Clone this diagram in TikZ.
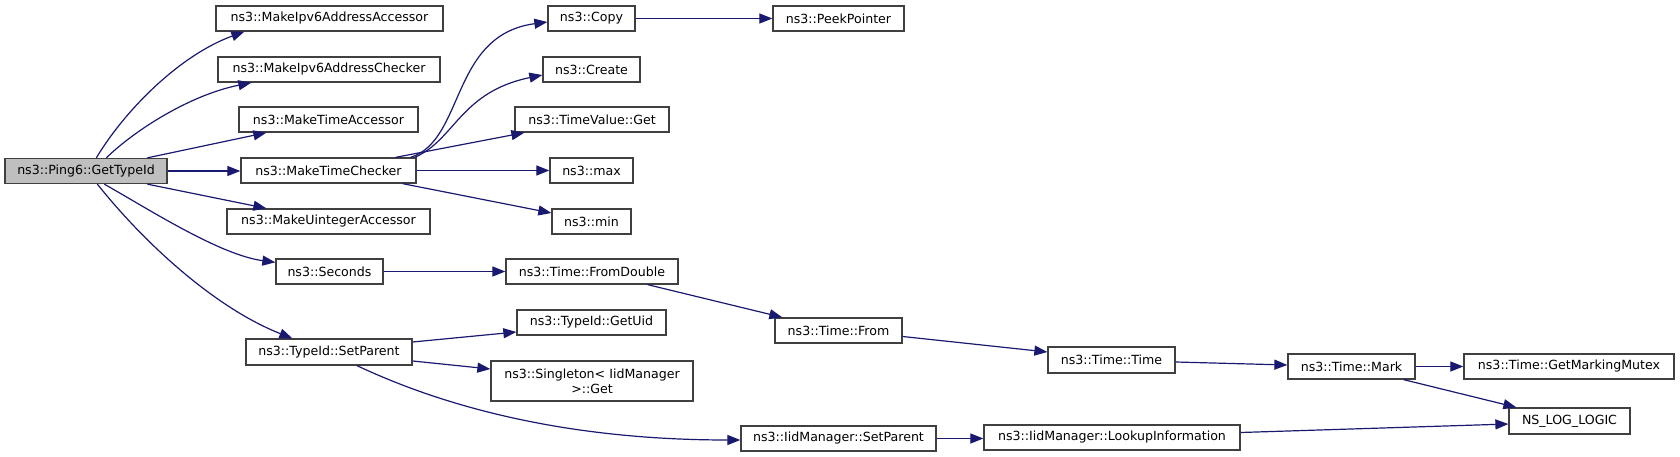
\documentclass[tikz,border=0pt]{standalone}
\usepackage{fontspec}
\setmainfont{DejaVu Sans}
\usetikzlibrary{arrows.meta,calc}
\definecolor{edgeblue}{HTML}{191970}
\definecolor{boxborder}{HTML}{404040}
\definecolor{rootfill}{HTML}{BFBFBF}
\tikzset{
  fnbox/.style={draw=boxborder, line width=1.3pt, fill=white, inner sep=0pt,
    minimum height=25pt, font=\fontsize{12.6pt}{15pt}\selectfont, align=center},
  rootbox/.style={fnbox, fill=rootfill},
  call/.style={draw=edgeblue, line width=1.2pt, -{Triangle[length=13pt,width=10pt]}},
}
\begin{document}
\begin{tikzpicture}[x=1pt,y=-1pt]
\useasboundingbox (0,0) rectangle (1680,457);
% nodes
\node[rootbox, minimum width=162pt] (gt) at (86,171) {ns3::Ping6::GetTypeId};
\node[fnbox, minimum width=227pt] (acc6) at (329.5,18.5) {ns3::MakeIpv6AddressAccessor};
\node[fnbox, minimum width=222pt] (chk6) at (329,69.5) {ns3::MakeIpv6AddressChecker};
\node[fnbox, minimum width=179pt] (tacc) at (328.5,119.5) {ns3::MakeTimeAccessor};
\node[fnbox, minimum width=175pt] (tchk) at (328.5,170.5) {ns3::MakeTimeChecker};
\node[fnbox, minimum width=203pt] (uacc) at (328.5,221.5) {ns3::MakeUintegerAccessor};
\node[fnbox, minimum width=107pt] (sec) at (329.5,271.5) {ns3::Seconds};
\node[fnbox, minimum width=166pt, minimum height=26pt] (tsp) at (329,352) {ns3::TypeId::SetParent};
\node[fnbox, minimum width=87pt] (copy) at (591.5,18.5) {ns3::Copy};
\node[fnbox, minimum width=97pt] (create) at (591.5,69.5) {ns3::Create};
\node[fnbox, minimum width=154pt] (tvg) at (592,119.5) {ns3::TimeValue::Get};
\node[fnbox, minimum width=83pt] (max) at (591.5,170.5) {ns3::max};
\node[fnbox, minimum width=79pt] (min) at (591.5,221.5) {ns3::min};
\node[fnbox, minimum width=172pt] (fd) at (592,271.5) {ns3::Time::FromDouble};
\node[fnbox, minimum width=149pt] (uid) at (591.5,322.5) {ns3::TypeId::GetUid};
\node[fnbox, minimum width=202pt, minimum height=40pt] (sing) at (592,381) {ns3::Singleton< IidManager\\ >::Get};
\node[fnbox, minimum width=131pt] (peek) at (838.5,18.5) {ns3::PeekPointer};
\node[fnbox, minimum width=127pt] (from) at (838.5,330.5) {ns3::Time::From};
\node[fnbox, minimum width=195pt] (isp) at (838.5,438.5) {ns3::IidManager::SetParent};
\node[fnbox, minimum width=127pt, minimum height=26pt] (time) at (1111.5,360) {ns3::Time::Time};
\node[fnbox, minimum width=256pt] (lookup) at (1112,437.5) {ns3::IidManager::LookupInformation};
\node[fnbox, minimum width=127pt] (mark) at (1351.5,366.5) {ns3::Time::Mark};
\node[fnbox, minimum width=210pt] (mutex) at (1569,366.5) {ns3::Time::GetMarkingMutex};
\node[fnbox, minimum width=121pt, minimum height=26pt] (nslog) at (1569.5,421) {NS\_LOG\_LOGIC};
% edges from GetTypeId
\draw[call] ($(gt.north west)+(92,0)$) .. controls (125,110) and (180,55) .. ($(acc6.south west)+(29,0)$);
\draw[call] ($(gt.north west)+(102,0)$) .. controls (135,130) and (190,95) .. ($(chk6.south west)+(34,0)$);
\draw[call] ($(gt.north west)+(143,0)$) -- ($(tacc.south west)+(28,0)$);
\draw[call] (gt.east) -- (gt.east -| tchk.west);
\draw[call] ($(gt.south west)+(143,0)$) -- ($(uacc.north west)+(40,0)$);
\draw[call] ($(gt.south west)+(100,0)$) .. controls (150,210) and (220,255) .. ($(sec.north west)+(0,4)$);
\draw[call] ($(gt.south west)+(93,0)$) .. controls (150,250) and (220,310) .. ($(tsp.north west)+(47,0)$);
% edges from MakeTimeChecker
\draw[call] ($(tchk.north east)+(-6,0)$) .. controls (465,140) and (450,35) .. ($(copy.west)+(0,3.5)$);
\draw[call] ($(tchk.north east)+(-2,0)$) .. controls (455,140) and (460,92) .. ($(create.west)+(0,5.5)$);
\draw[call] ($(tchk.north east)+(-21,0)$) -- ($(tvg.south west)+(10,0)$);
\draw[call] (tchk.east) -- (tchk.east -| max.west);
\draw[call] ($(tchk.south east)+(-14,0)$) -- ($(min.west)+(0,-8.5)$);
% other edges
\draw[call] (copy.east) -- (copy.east -| peek.west);
\draw[call] (sec.east) -- (sec.east -| fd.west);
\draw[call] ($(fd.south east)+(-31,0)$) -- ($(from.north west)+(8,0)$);
\draw[call] ($(from.east)+(0,6)$) -- ($(time.west)+(0,-8)$);
\draw[call] ($(time.east)+(0,2)$) -- ($(mark.west)+(0,-1.5)$);
\draw[call] (mark.east) -- (mark.east -| mutex.west);
\draw[call] ($(mark.south east)+(-12,0)$) -- ($(nslog.north west)+(8,0)$);
\draw[call] ($(lookup.east)+(0,-5)$) -- ($(nslog.west)+(0,3)$);
\draw[call] (isp.east) -- (isp.east -| lookup.west);
\draw[call] ($(tsp.east)+(0,-10)$) -- ($(uid.west)+(0,9.5)$);
\draw[call] ($(tsp.east)+(0,9)$) -- ($(sing.west)+(0,-12)$);
\draw[call] ($(tsp.south)+(28,0)$) .. controls (430,400) and (550,440) .. ($(isp.west)+(0,1.5)$);
\end{tikzpicture}
\end{document}
